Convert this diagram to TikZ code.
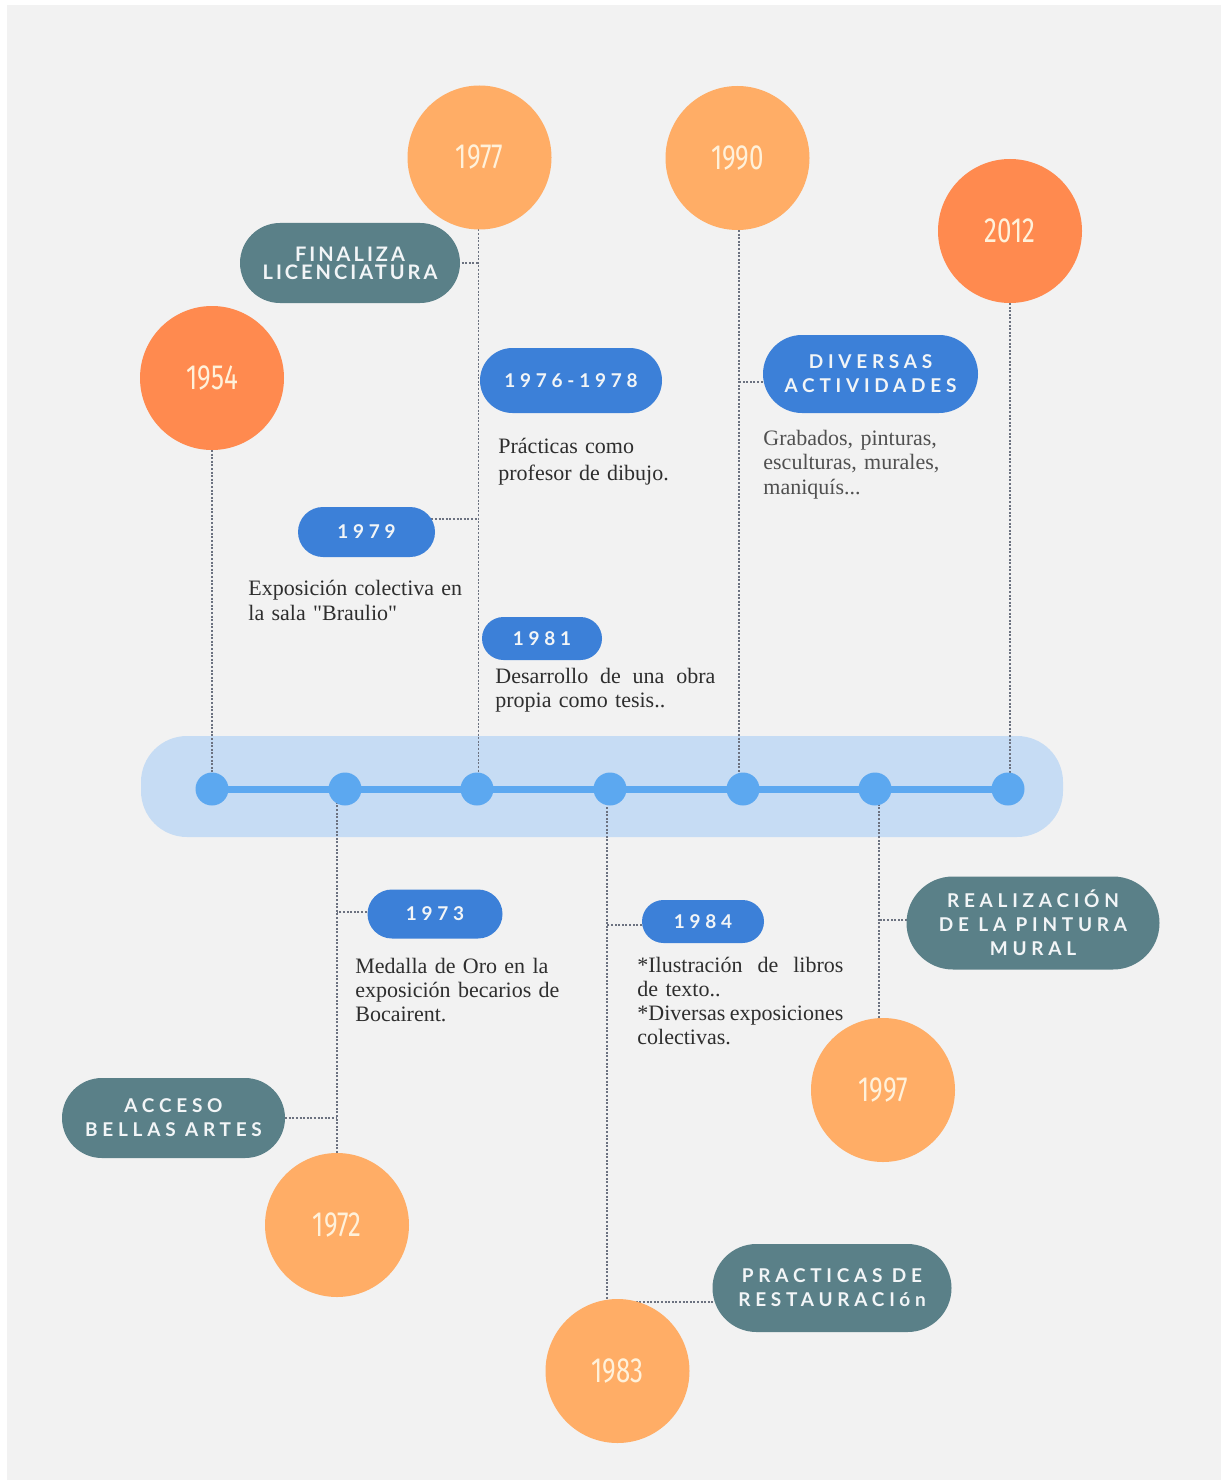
\documentclass[tikz,border=0pt]{standalone}
\usepackage{fontspec}
\setmainfont{Liberation Serif}
\newfontfamily\qfont[Ligatures=ResetAll]{Liberation Serif}
\newfontfamily\yearfont[FakeStretch=0.74]{Fira Sans}
\newfontfamily\pillfont[LetterSpace=25]{Lato}
\newfontfamily\pillfontT[LetterSpace=15]{Lato}
\usetikzlibrary{shapes.misc}
\definecolor{bggrey}{HTML}{F2F2F2}
\definecolor{bandblue}{HTML}{C6DCF4}
\definecolor{lineblue}{HTML}{5CA8F0}
\definecolor{pillblue}{HTML}{3C80D8}
\definecolor{pillteal}{HTML}{5A8088}
\definecolor{pilltxt}{HTML}{F2F5F7}
\definecolor{orangeL}{HTML}{FFAD66}
\definecolor{orangeD}{HTML}{FF8A4F}
\definecolor{yeartxt}{HTML}{FFF1DA}
\definecolor{conngrey}{HTML}{6C7280}
\definecolor{bodytxt}{HTML}{2E2E2E}
\definecolor{bodygrey}{HTML}{505050}
\pgfdeclarelayer{bg}
\pgfdeclarelayer{lines}
\pgfsetlayers{bg,lines,main}
\newcommand{\spreadline}[2]{\leavevmode\hbox to #1{#2}}
\newcommand{\dq}{{\qfont\symbol{"22}}}
\tikzset{
  yearcirc/.style={circle, minimum size=72pt, inner sep=0pt, text=yeartxt,
    font=\yearfont\fontsize{17.5}{17.5}\selectfont},
  yearlight/.style={yearcirc, fill=orangeL},
  yeardark/.style={yearcirc, fill=orangeD},
  tdot/.style={circle, fill=lineblue, minimum size=16.5pt, inner sep=0pt},
  pill/.style={rounded rectangle, inner sep=0pt, align=center, text=pilltxt,
    font=\pillfont\bfseries\fontsize{9.5}{12}\selectfont},
  tealpill/.style={pill, fill=pillteal},
  bluepill/.style={pill, fill=pillblue},
  conn/.style={draw=conngrey, line width=0.9pt, dash pattern=on 1pt off 0.8pt},
  body/.style={inner sep=0pt, anchor=base west, text=bodytxt, align=left}
}
\begin{document}
\begin{tikzpicture}[x=0.5pt,y=-0.5pt]
\useasboundingbox (0,0) rectangle (1223,1482);
\begin{pgfonlayer}{bg}
  \fill[white] (0,0) rectangle (1223,1482);
  \fill[bggrey] (7,5) rectangle (1221,1480);
  \fill[bandblue, rounded corners=23pt] (141,736) rectangle (1063,837);
\end{pgfonlayer}

% timeline dots
\node[tdot] (d1) at (212,789) {};
\node[tdot] (d2) at (345,789) {};
\node[tdot] (d3) at (477,789) {};
\node[tdot] (d4) at (610,789) {};
\node[tdot] (d5) at (743,789) {};
\node[tdot] (d6) at (875,789) {};
\node[tdot] (d7) at (1008,789) {};

% year circles
\node[yeardark]  (c1954) at (212,378) {1954};
\node[yearlight] (c1977) at (479.5,157.5) {1977};
\node[yearlight] (c1990) at (737.5,158) {1990};
\node[yeardark]  (c2012) at (1010,231) {2012};
\node[yearlight] (c1972) at (337,1225) {1972};
\node[yearlight] (c1983) at (617.5,1371) {1983};
\node[yearlight] (c1997) at (883,1090) {1997};

% teal pills
\node[tealpill, minimum width=110pt, minimum height=40pt,
  font=\pillfontT\bfseries\fontsize{10}{9}\selectfont] (fin) at (350,263) {FINALIZA\\LICENCIATURA};
\node[tealpill, minimum width=111.5pt, minimum height=40pt] (acc) at (173.5,1118) {ACCESO\\BELLAS ARTES};
\node[tealpill, minimum width=126.5pt, minimum height=46.5pt] (real) at (1033,923) {REALIZACIÓN\\DE LA PINTURA\\MURAL};
\node[tealpill, minimum width=119.5pt, minimum height=44pt] (rest) at (832,1288) {PRACTICAS DE\\RESTAURACIón};

% blue pills
\node[bluepill, minimum width=107.5pt, minimum height=39pt] (div) at (870.5,374) {DIVERSAS\\ACTIVIDADES};
\node[bluepill, minimum width=91pt, minimum height=32.5pt] (p7678) at (571,380.5) {1976-1978};
\node[bluepill, minimum width=68.5pt, minimum height=25pt] (p79) at (366.5,532) {1979};
\node[bluepill, minimum width=60pt, minimum height=21.5pt] (p81) at (542,638.5) {1981};
\node[bluepill, minimum width=67.5pt, minimum height=24.5pt] (p73) at (435,914) {1973};
\node[bluepill, minimum width=61pt, minimum height=21.5pt] (p84) at (703,921.5) {1984};

% body texts
\node[body, text width=100pt, font=\fontsize{11}{13.5}\selectfont] (t7678) at (498,453)
  {Prácticas como\\profesor de dibujo.};
\node[body, text width=115pt, font=\fontsize{11}{12.5}\selectfont] (t79) at (248,595)
  {Exposición colectiva en\\la sala \dq Braulio\dq};
\node[body, text width=112pt, font=\fontsize{11}{12}\selectfont] (t81) at (495,683)
  {\spreadline{110pt}{Desarrollo\hfill de\hfill una\hfill obra}\\propia como tesis..};
\node[body, text width=100pt, text=bodygrey, font=\fontsize{11}{12.3}\selectfont] (tdiv) at (763,445)
  {Grabados, pinturas,\\esculturas, murales,\\maniquís...};
\node[body, text width=110pt, font=\fontsize{11}{12.2}\selectfont] (t73) at (355,973)
  {Medalla de Oro en la\\exposición becarios de\\Bocairent.};
\node[body, text width=106pt, font=\fontsize{11}{12}\selectfont] (t84) at (637,972)
  {\spreadline{103pt}{*Ilustración\hfill de\hfill libros}\\de texto..\\\spreadline{103pt}{*Diversas\hfill exposiciones}\\colectivas.};

\coordinate (k83) at (607,1302);

\begin{pgfonlayer}{lines}
  \draw[lineblue, line width=3.5pt] (d1.center) -- (d7.center);
  % verticals
  \draw[conn] (c1954.center) -- (c1954.center |- d1.center);
  \draw[conn] ([xshift=-0.5pt]c1977.center) -- ([xshift=-0.5pt]c1977.center |- d3.center);
  \draw[conn] ([xshift=0.75pt]c1990.center) -- ([xshift=0.75pt]c1990.center |- d5.center);
  \draw[conn] (c2012.center) -- (c2012.center |- d7.center);
  \draw[conn] (c1972.center) -- (c1972.center |- d2.center);
  \draw[conn] (k83 |- d4.center) -- (k83);
  \draw[conn] ([xshift=-2pt]c1997.center) -- ([xshift=-2pt]c1997.center |- d6.center);
  % horizontals
  \draw[conn] (fin.center) -- (fin.center -| c1977.center);
  \draw[conn] ([yshift=6.5pt]p79.center) -- ([yshift=6.5pt,xshift=-0.5pt]p79.center -| c1977.center);
  \draw[conn] ([yshift=-4pt]div.center) -- ([yshift=-4pt,xshift=0.75pt]div.center -| c1990.center);
  \draw[conn] ([yshift=1pt]p73.center) -- ([yshift=1pt]p73.center -| c1972.center);
  \draw[conn] (acc.center) -- (acc.center -| c1972.center);
  \draw[conn] ([yshift=-1.75pt]p84.center) -- ([yshift=-1.75pt]p84.center -| k83);
  \draw[conn] ([yshift=1.5pt]real.center) -- ([yshift=1.5pt,xshift=-2pt]real.center -| c1997.center);
  \draw[conn] (k83) -- (k83 -| rest.center);
\end{pgfonlayer}
\end{tikzpicture}
\end{document}
